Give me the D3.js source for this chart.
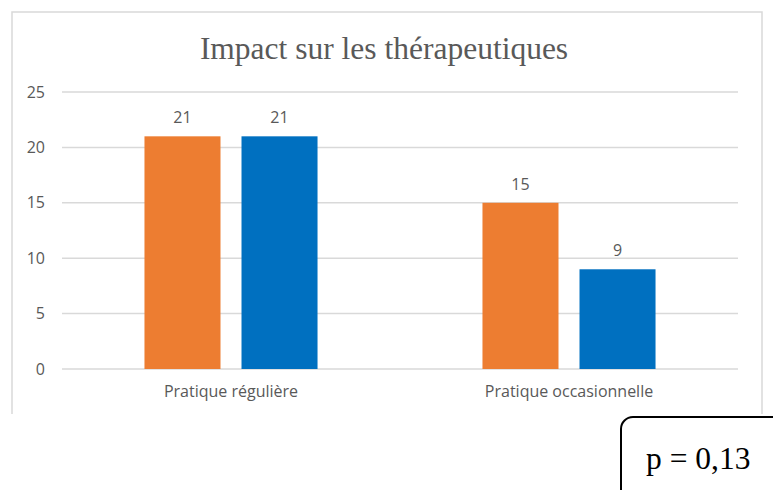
<!DOCTYPE html>
<html>
<head>
<meta charset="utf-8">
<script src="https://cdn.jsdelivr.net/npm/d3@7"></script>
<style>
  body { margin: 0; background: #fff; }
</style>
</head>
<body>
<div id="chart"></div>
<script>
// data
const categories = ["Pratique régulière", "Pratique occasionnelle"];
const seriesNames = ["serie1", "serie2"];
const serie1 = [21, 15];
const serie2 = [21, 9];
const yTicks = [0, 5, 10, 15, 20, 25];
const colors = ["#ed7d31", "#0070c0"];

const W = 773, H = 490;
const plot = { left: 62, right: 738, top: 92, bottom: 369 };
const sans = "'Open Sans', Lato, sans-serif";
const serif = "'Liberation Serif', 'Times New Roman', serif";

const svg = d3.select("#chart").append("svg")
  .attr("width", W)
  .attr("height", H);

// chart frame (bottom edge is cut off in the original)
svg.append("path")
  .attr("d", "M12,414 V12 H762 V414")
  .attr("fill", "none")
  .attr("stroke", "#d9d9d9")
  .attr("stroke-width", 1.5);

const y = d3.scaleLinear().domain([0, 25]).range([plot.bottom, plot.top]);
const x0 = d3.scaleBand().domain(categories).range([plot.left, plot.right]).padding(0);
const x1 = d3.scaleBand().domain(seriesNames).range([0, x0.bandwidth()])
  .paddingInner(0.2165).paddingOuter(0.85);

// gridlines
svg.append("g")
  .selectAll("line")
  .data(yTicks)
  .join("line")
  .attr("x1", plot.left)
  .attr("x2", plot.right)
  .attr("y1", d => y(d))
  .attr("y2", d => y(d))
  .attr("stroke", "#d9d9d9")
  .attr("stroke-width", 1.5);

// y axis labels
const yAxis = d3.axisLeft(y).tickValues(yTicks).tickSize(0).tickPadding(0);
svg.append("g")
  .attr("transform", `translate(45,0)`)
  .call(yAxis)
  .call(g => g.select(".domain").remove())
  .selectAll("text")
  .attr("fill", "#595959")
  .style("font-family", sans)
  .style("font-size", "16px");

// x axis labels
const xAxis = d3.axisBottom(x0).tickSize(0).tickPadding(0);
svg.append("g")
  .attr("transform", `translate(0,${plot.bottom + 17})`)
  .call(xAxis)
  .call(g => g.select(".domain").remove())
  .selectAll("text")
  .attr("fill", "#595959")
  .style("font-family", sans)
  .style("font-size", "16px");

const rows = categories.map((c, i) => ({
  cat: c,
  vals: [{ s: "serie1", v: serie1[i] }, { s: "serie2", v: serie2[i] }]
}));

const groups = svg.append("g")
  .selectAll("g")
  .data(rows)
  .join("g")
  .attr("transform", d => `translate(${x0(d.cat)},0)`);

groups.selectAll("rect")
  .data(d => d.vals)
  .join("rect")
  .attr("x", d => x1(d.s))
  .attr("y", d => y(d.v))
  .attr("width", x1.bandwidth())
  .attr("height", d => y(0) - y(d.v))
  .attr("fill", (d, i) => colors[i]);

groups.selectAll("text")
  .data(d => d.vals)
  .join("text")
  .attr("x", d => x1(d.s) + x1.bandwidth() / 2)
  .attr("y", d => y(d.v) - 13)
  .attr("text-anchor", "middle")
  .attr("fill", "#595959")
  .style("font-family", sans)
  .style("font-size", "16px")
  .text(d => d.v);

// title
svg.append("text")
  .attr("x", 384)
  .attr("y", 59)
  .attr("text-anchor", "middle")
  .attr("fill", "#595959")
  .style("font-family", serif)
  .style("font-size", "31.5px")
  .text("Impact sur les thérapeutiques");

// p-value box
svg.append("rect")
  .attr("x", 621)
  .attr("y", 417)
  .attr("width", 180)
  .attr("height", 100)
  .attr("rx", 12)
  .attr("fill", "#fff")
  .attr("stroke", "#000")
  .attr("stroke-width", 2);

svg.append("text")
  .attr("x", 646)
  .attr("y", 469)
  .attr("fill", "#000")
  .style("font-family", serif)
  .style("font-size", "31.5px")
  .text("p = 0,13");
</script>
</body>
</html>
